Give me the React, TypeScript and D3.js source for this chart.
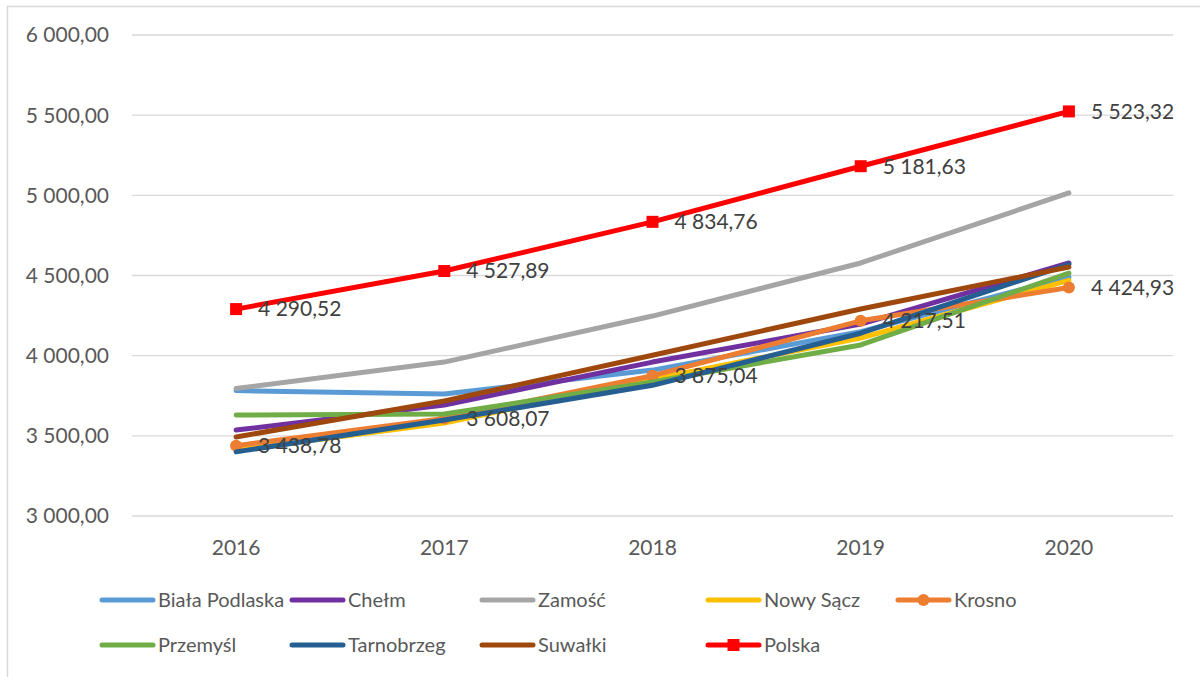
import React from 'react';
import { scalePoint, scaleLinear, line, formatLocale } from 'd3';

// years on the x axis
const years = ['2016', '2017', '2018', '2019', '2020'];
const yTicks = [3000, 3500, 4000, 4500, 5000, 5500, 6000];

const bialaPodlaska = [3782, 3761, 3910, 4150, 4490];
const chelm = [3536, 3692, 3960, 4197, 4578];
const zamosc = [3795, 3960, 4247, 4578, 5015];
const nowySacz = [3410, 3580, 3853, 4110, 4470];
const krosno = [3438.78, 3608.07, 3875.04, 4217.51, 4424.93];
const przemysl = [3630, 3636, 3836, 4067, 4515];
const tarnobrzeg = [3400, 3599, 3815, 4140, 4570];
const suwalki = [3493, 3717, 4003, 4291, 4553];
const polska = [4290.52, 4527.89, 4834.76, 5181.63, 5523.32];

const seriesNames = ['Biała Podlaska', 'Chełm', 'Zamość', 'Nowy Sącz', 'Krosno', 'Przemyśl', 'Tarnobrzeg', 'Suwałki', 'Polska'];
const seriesValues = [bialaPodlaska, chelm, zamosc, nowySacz, krosno, przemysl, tarnobrzeg, suwalki, polska];
const seriesColors = ['#5B9BD5', '#7030A0', '#A5A5A5', '#FFC000', '#ED7D31', '#70AD47', '#255E91', '#9E480E', '#FF0000'];
const seriesMarkers = ['none', 'none', 'none', 'none', 'circle', 'none', 'none', 'none', 'square'];
const labelled = [false, false, false, false, true, false, false, false, true];

const plLocale = formatLocale({ decimal: ',', thousands: '\u00a0', grouping: [3], currency: ['', ' zł'] });
const fmt = plLocale.format(',.2f');

const App = () => {
  const width = 1200;
  const height = 677;
  const margin = { top: 35, right: 27, bottom: 161, left: 132 };
  const innerWidth = width - margin.left - margin.right;
  const innerHeight = height - margin.top - margin.bottom;

  const xScale = scalePoint<string>().domain(years).range([0, innerWidth]).padding(0.5);
  const yScale = scaleLinear().domain([3000, 6000]).range([innerHeight, 0]);

  const pathGen = line<number>()
    .x((d, i) => xScale(years[i]) as number)
    .y((d) => yScale(d));

  const fontFamily = 'Lato, "Open Sans", sans-serif';
  const textColor = '#595959';

  // legend layout: column x positions and row y positions
  const legendCols = [102, 292, 482, 708, 898];
  const legendRows = [600, 645];

  const marker = (type: string, x: number, y: number, color: string, key: any) => {
    if (type === 'circle') return <circle key={key} cx={x} cy={y} r={6} fill={color} />;
    if (type === 'square') return <rect key={key} x={x - 6} y={y - 6} width={12} height={12} fill={color} />;
    return null;
  };

  return (
    <svg width={width} height={height} style={{ display: 'block', position: 'absolute', left: 0, top: 0, background: '#fff' }}>
      <rect x={7.5} y={6.5} width={1300} height={700} fill="#fff" stroke="#D9D9D9" strokeWidth={1.5} />
      <g transform={`translate(${margin.left},${margin.top})`}>
        {yTicks.map((t) => (
          <g key={t}>
            <line x1={0} x2={innerWidth} y1={yScale(t)} y2={yScale(t)} stroke="#D9D9D9" strokeWidth={1.3} />
            <text x={-23} y={yScale(t)} dy="0.35em" textAnchor="end" fontSize={21} fill={textColor} fontFamily={fontFamily}>
              {fmt(t)}
            </text>
          </g>
        ))}
        {years.map((yr) => (
          <text key={yr} x={xScale(yr)} y={innerHeight + 39} textAnchor="middle" fontSize={21} fill={textColor} fontFamily={fontFamily}>
            {yr}
          </text>
        ))}
        {seriesValues.map((vals, si) => (
          <g key={seriesNames[si]}>
            <path d={pathGen(vals) || ''} fill="none" stroke={seriesColors[si]} strokeWidth={5} strokeLinecap="round" strokeLinejoin="round" />
            {vals.map((v, i) => marker(seriesMarkers[si], xScale(years[i]) as number, yScale(v), seriesColors[si], i))}
          </g>
        ))}
        {seriesValues.map((vals, si) =>
          labelled[si]
            ? vals.map((v, i) => (
                <text key={si + '-' + i} x={(xScale(years[i]) as number) + 22} y={yScale(v)} dy="0.35em" fontSize={21} fill="#404040" fontFamily={fontFamily}>
                  {fmt(v)}
                </text>
              ))
            : null
        )}
      </g>
      {seriesNames.map((name, k) => {
        const col = k < 5 ? k : k - 5;
        const row = k < 5 ? 0 : 1;
        const lx = legendCols[col];
        const ly = legendRows[row];
        return (
          <g key={name}>
            <line x1={lx} x2={lx + 51} y1={ly} y2={ly} stroke={seriesColors[k]} strokeWidth={5} strokeLinecap="round" />
            {marker(seriesMarkers[k], lx + 25.5, ly, seriesColors[k], 'm')}
            <text x={lx + 56} y={ly} dy="0.35em" fontSize={20} fill={textColor} fontFamily={fontFamily}>
              {name}
            </text>
          </g>
        );
      })}
    </svg>
  );
};

export default App;
